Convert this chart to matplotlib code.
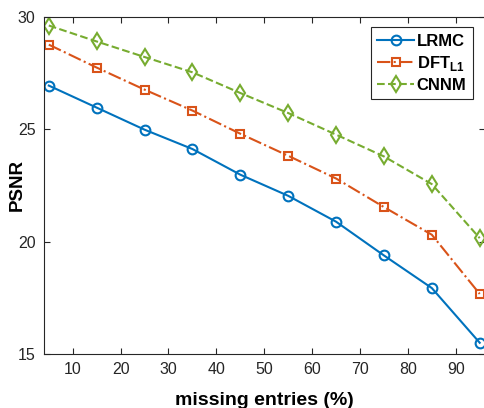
import numpy as np
import matplotlib
matplotlib.use('Agg')
import matplotlib.pyplot as plt

plt.rcParams['font.family'] = ['Liberation Sans', 'DejaVu Sans']
plt.rcParams['mathtext.fontset'] = 'custom'
plt.rcParams['mathtext.bf'] = 'Liberation Sans:bold'
plt.rcParams['mathtext.rm'] = 'Liberation Sans'

missing = [5, 15, 25, 35, 45, 55, 65, 75, 85, 95]
lrmc = [26.93, 25.95, 24.97, 24.11, 22.97, 22.03, 20.88, 19.38, 17.93, 15.5]
dft_l1 = [28.75, 27.73, 26.75, 25.82, 24.79, 23.81, 22.8, 21.53, 20.3, 17.67]
cnnm = [29.6, 28.89, 28.2, 27.52, 26.6, 25.71, 24.75, 23.78, 22.55, 20.15]

x_ticks = [10, 20, 30, 40, 50, 60, 70, 80, 90]
y_ticks = [15, 20, 25, 30]

fig = plt.figure(figsize=(4.84, 4.08), dpi=100)
# right spine sits just outside the picture, as in the reference crop
ax = fig.add_axes([44/484, 54/408, 440.5/484, 337.5/408])

ax.plot(missing, lrmc, '-', color='#0072BD', lw=1.5, marker='o', ms=7,
        mfc='none', mew=1.5, label='LRMC')
ax.plot(missing, dft_l1, '-.', color='#D95319', lw=1.5, marker='s', ms=5.5,
        mfc='none', mew=1.5, label=r'DFT$_{\mathbf{L1}}$')
ax.plot(missing, cnnm, '--', color='#77AC30', lw=1.5, marker='d', ms=8,
        mfc='none', mew=1.5, label='CNNM')

ax.set_xlim(4, 96)
ax.set_ylim(15, 30)
ax.set_xticks(x_ticks)
ax.set_yticks(y_ticks)
ax.tick_params(direction='in', length=4, width=0.8, colors='#262626',
               labelsize=11.5, top=True, right=True, pad=6)
for s in ax.spines.values():
    s.set_color('#262626')
    s.set_linewidth(0.8)

ax.set_xlabel('missing entries (%)', fontsize=14, fontweight='bold', va='top')
ax.set_ylabel('PSNR', fontsize=13.5, fontweight='bold')
ax.xaxis.set_label_coords(0.5, -0.113)
ax.yaxis.set_label_coords(-0.042, 0.5)

leg = ax.legend(loc='upper right', bbox_to_anchor=(0.974, 0.969),
                borderaxespad=0, prop={'weight': 'bold', 'size': 12},
                fancybox=False, edgecolor='#262626', framealpha=1,
                handlelength=2.2, borderpad=0.4, labelspacing=0.3,
                handletextpad=0.15)
leg.get_frame().set_linewidth(0.8)

fig.savefig('out.png', dpi=100)
